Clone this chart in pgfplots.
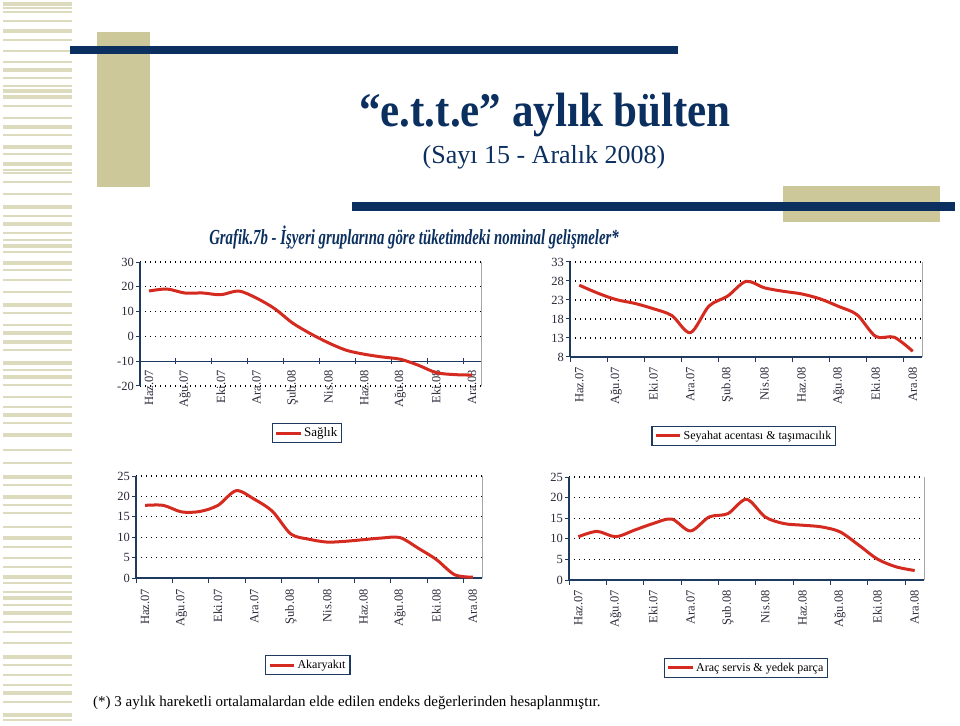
\documentclass[border=0pt]{standalone}
\usepackage{fontspec}
\setmainfont{Liberation Serif}
\usepackage{graphicx}
\usepackage{pgfplots}
\pgfplotsset{compat=1.18}
\definecolor{navy}{HTML}{0B2F5F}
\definecolor{beige}{HTML}{CCC89A}
\definecolor{stripe}{HTML}{DDDBBE}
\definecolor{axisc}{HTML}{1F3A5F}
\definecolor{curve}{HTML}{D42A20}
\definecolor{lbl}{HTML}{2A2A3A}
\pgfplotsset{
  curvestyle/.style={curve, line width=3pt, smooth, tension=0.5, line join=round, no marks},
  minichart/.style={
    scale only axis, clip=false,
    xmin=-0.5, xmax=18.5,
    axis x line*=bottom, axis y line*=left,
    x axis line style={axisc, line width=1.2pt, -},
    y axis line style={axisc, line width=1.2pt, -},
    xtick={0,2,...,18},
    xticklabels={Haz.07,Ağu.07,Eki.07,Ara.07,Şub.08,Nis.08,Haz.08,Ağu.08,Eki.08,Ara.08},
    xticklabel style={rotate=90, anchor=east, font=\fontsize{12.5}{12.5}\selectfont, text=lbl, inner sep=1pt},
    yticklabel style={font=\fontsize{12.5}{12.5}\selectfont, text=lbl, inner sep=2pt},
    /pgf/number format/assume math mode=true,
    major x tick style={draw=none},
    major y tick style={axisc, line width=1pt},
    minor xtick={-0.5,1.5,...,17.5},
    minor x tick style={axisc, line width=1pt},
    minor tick length=5pt, major tick length=4pt,
    tick align=outside,
    ymajorgrids,
    grid style={black, line width=1.1pt, dash pattern=on 1.1pt off 3.9pt},
    legend style={anchor=center, draw=axisc, line width=1.2pt,
      font=\fontsize{12}{12}\selectfont, inner sep=2.5pt, row sep=0pt},
    legend cell align=left,
    legend image code/.code={\draw[#1] (0cm,0cm) -- (0.85cm,0cm);},
  }
}
\begin{document}
\begin{tikzpicture}
\begin{scope}[x=1pt,y=1pt]
\fill[white] (0,0) rectangle (960,725);
\foreach \y in {4,31,70,91,97,127,147,164,207,224,246,263,305,333,342,363,377,415,435,477,497,538,577,598,613,657,693,715}
  \fill[stripe] (3,{725-\y-1.6}) rectangle (72,{725-\y+1.6});
\foreach \y in {8,12,21,40,51,62,78,86,106,118,135,154,170,173,182,194,216,233,240,252,270,280,292,313,325,350,370,385,397,407,423,450,463,485,505,513,527,547,558,567,583,592,605,622,632,643,665,675,685,702,720}
  \fill[stripe] (3,{725-\y-0.6}) rectangle (72,{725-\y+0.6});
\fill[beige] (97,538) rectangle (150,693);
\fill[navy] (70,671) rectangle (678,679);
\fill[beige] (783,503) rectangle (940,539);
\fill[navy] (352,514) rectangle (955,523);
\node[text=navy, inner sep=0pt] at (545,610) {\scalebox{1}[1.12]{\fontsize{43}{43}\selectfont\bfseries “e.t.t.e” aylık bülten}};
\node[text=navy, inner sep=0pt] at (544,568) {\fontsize{26}{26}\selectfont (Sayı 15 - Aralık 2008)};
\node[text=navy, inner sep=0pt] at (414,487) {\scalebox{1}[1.45]{\fontsize{14.8}{14.8}\selectfont\bfseries\itshape Grafik.7b - İşyeri gruplarına göre tüketimdeki nominal gelişmeler*}};
\node[text=black, anchor=west, inner sep=0pt] at (93,22) {\fontsize{15}{15}\selectfont (*) 3 aylık hareketli ortalamalardan elde edilen endeks değerlerinden hesaplanmıştır.};
\end{scope}

% Top-left: Sağlık
\begin{axis}[minichart, at={(140pt,339pt)}, anchor=south west, width=341pt, height=124pt,
  ymin=-20, ymax=30, ytick={-20,-10,...,30},
  x axis line style={draw=none}, minor x tick style={draw=none},
  xticklabel shift=-21pt,
  legend style={at={(0.49,-0.38)}, font=\fontsize{13}{13}\selectfont}]
\draw[axisc, line width=1.2pt] (axis cs:-0.5,-10) -- (axis cs:18.5,-10);
\pgfplotsinvokeforeach{0,...,9}{\draw[axisc,line width=1pt] (axis cs:{2*#1-0.5},-11.2) -- (axis cs:{2*#1-0.5},-8.8);}
\draw[gray!70, line width=0.8pt] (rel axis cs:1,0) -- (rel axis cs:1,1);
\addplot[curvestyle] coordinates {(0,18.3) (1,19.1) (2,17.5) (3,17.5) (4,16.8) (5,18.3) (6,15.4) (7,11.2) (8,5.4) (9,1.1) (10,-2.6) (11,-5.6) (12,-7.2) (13,-8.3) (14,-9.2) (15,-11.6) (16,-14.6) (17,-15.4) (18,-15.6)};
\addlegendentry{Sağlık}
\end{axis}

% Top-right: Seyahat
\begin{axis}[minichart, at={(570pt,368pt)}, anchor=south west, width=352pt, height=95pt,
  ymin=8, ymax=33, ytick={8,13,...,33},
  xticklabel shift=5pt,
  legend style={at={(0.494,-0.83)}}]
\draw[gray!70, line width=0.8pt] (rel axis cs:1,0) -- (rel axis cs:1,1);
\addplot[curvestyle] coordinates {(0,26.9) (1,24.8) (2,23.1) (3,22.1) (4,20.7) (5,18.9) (6,14.4) (7,21.4) (8,24.0) (9,27.9) (10,26.2) (11,25.3) (12,24.6) (13,23.3) (14,21.3) (15,19.1) (16,13.4) (17,13.2) (18,9.5)};
\addlegendentry{Seyahat acentası \& taşımacılık}
\end{axis}

% Bottom-left: Akaryakıt
\begin{axis}[minichart, at={(136pt,147pt)}, anchor=south west, width=346pt, height=102pt,
  ymin=0, ymax=25, ytick={0,5,...,25},
  xticklabel shift=6pt,
  legend style={at={(0.497,-0.853)}}]
\draw[gray!70, line width=0.8pt] (rel axis cs:1,0) -- (rel axis cs:1,1);
\addplot[curvestyle] coordinates {(0,17.8) (1,17.8) (2,16.2) (3,16.3) (4,17.8) (5,21.4) (6,19.3) (7,16.3) (8,10.8) (9,9.5) (10,8.8) (11,9.0) (12,9.4) (13,9.8) (14,9.9) (15,7.3) (16,4.5) (17,0.8) (18,0.2)};
\addlegendentry{Akaryakıt}
\end{axis}

% Bottom-right: Araç servis
\begin{axis}[minichart, at={(569pt,145pt)}, anchor=south west, width=355pt, height=103pt,
  ymin=0, ymax=25, ytick={0,5,...,25},
  xticklabel shift=5pt,
  legend style={at={(0.499,-0.854)}}]
\draw[gray!70, line width=0.8pt] (rel axis cs:1,0) -- (rel axis cs:1,1);
\addplot[curvestyle] coordinates {(0,10.5) (1,11.8) (2,10.5) (3,12.1) (4,13.7) (5,14.8) (6,11.9) (7,15.3) (8,16.1) (9,19.6) (10,15.3) (11,13.7) (12,13.3) (13,12.9) (14,11.7) (15,8.5) (16,5.1) (17,3.2) (18,2.3)};
\addlegendentry{Araç servis \& yedek parça}
\end{axis}
\end{tikzpicture}
\end{document}
